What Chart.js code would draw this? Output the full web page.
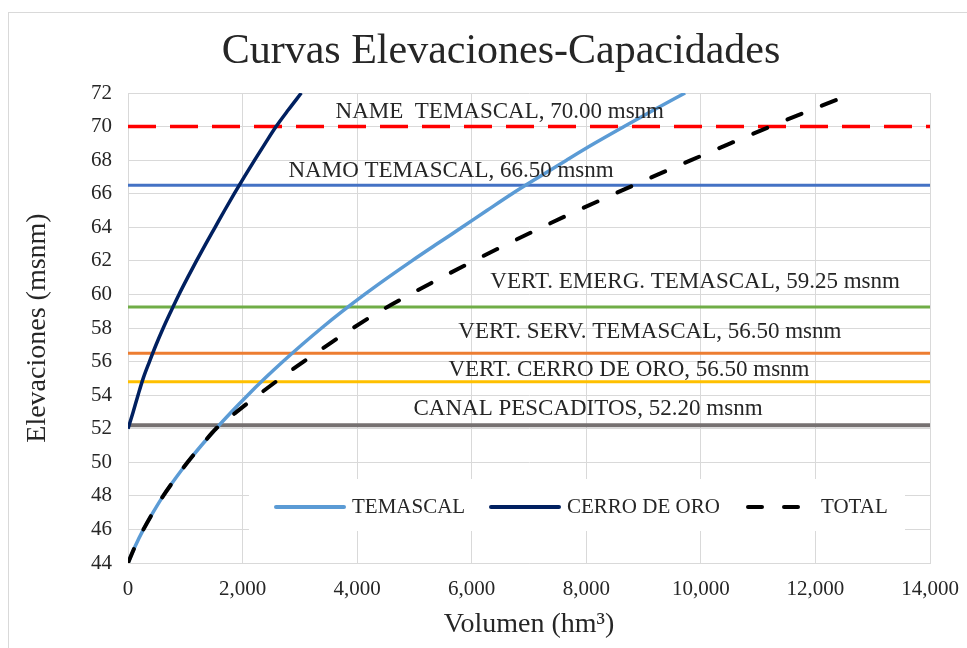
<!DOCTYPE html>
<html>
<head>
<meta charset="utf-8">
<script src="https://cdn.jsdelivr.net/npm/chart.js@4.4.0/dist/chart.umd.min.js"></script>
<style>
  html, body { margin: 0; padding: 0; background: #fff; }
  #wrap { position: relative; width: 967px; height: 648px; overflow: hidden; }
  #frame { position: absolute; left: 8px; top: 12px; width: 1000px; height: 700px; border: 1px solid #d9d9d9; }
  canvas { position: absolute; left: 0; top: 0; }
</style>
</head>
<body>
<div id="wrap">
  <div id="frame"></div>
  <canvas id="myChart" width="967" height="648"></canvas>
</div>
<script>
    // data
    const elevTemascal = [44, 45, 46, 47, 48, 49, 50, 51, 52, 53, 54, 55, 56, 57, 58, 59, 60, 61, 62, 63, 64, 65, 66, 67, 68, 69, 70, 71, 72];
    const volTemascal  = [0, 125, 270, 435, 615, 820, 1040, 1280, 1535, 1805, 2090, 2390, 2705, 3035, 3380, 3745, 4130, 4535, 4955, 5390, 5830, 6265, 6705, 7175, 7655, 8145, 8660, 9185, 9725];

    const elevCerro = [52, 53, 54, 55, 56, 57, 58, 59, 60, 61, 62, 63, 64, 65, 66, 67, 68, 69, 70, 71, 72];
    const volCerro  = [0, 90, 175, 265, 375, 490, 615, 750, 890, 1040, 1195, 1355, 1520, 1685, 1855, 2030, 2210, 2395, 2585, 2800, 3025];

    const elevTotal = [44, 45, 46, 47, 48, 49, 50, 51, 52, 53, 54, 55, 56, 57, 58, 59, 60, 61, 62, 63, 64, 65, 66, 67, 68, 69, 70, 71, 72];
    const volTotal  = [0, 125, 270, 435, 615, 820, 1040, 1280, 1535, 1895, 2270, 2660, 3065, 3490, 3930, 4400, 4925, 5470, 6035, 6620, 7225, 7850, 8495, 9155, 9830, 10515, 11210, 11930, 12675];

    const levelNames  = ['NAME  TEMASCAL, 70.00 msnm', 'NAMO TEMASCAL, 66.50 msnm', 'VERT. EMERG. TEMASCAL, 59.25 msnm',
                         'VERT. SERV. TEMASCAL, 56.50 msnm', 'VERT. CERRO DE ORO, 56.50 msnm', 'CANAL PESCADITOS, 52.20 msnm'];
    const levelValues = [70, 66.5, 59.25, 56.5, 54.8, 52.2];
    const levelSpan   = [0, 14000];

    const xTicks = [0, 2000, 4000, 6000, 8000, 10000, 12000, 14000];
    const yTicks = [44, 46, 48, 50, 52, 54, 56, 58, 60, 62, 64, 66, 68, 70, 72];

    const seriesNames = ['TEMASCAL', 'CERRO DE ORO', 'TOTAL'];

    // styles / layout
    const serif = '"Liberation Serif", "Times New Roman", serif';
    const textColor = '#262626';
    const levelColors = ['#ff0000', '#4472c4', '#70ad47', '#ed7d31', '#ffc000', '#767171'];
    const levelWidths = [3.5, 3, 3, 3, 3, 4];
    // where the level captions sit, in data units (volume, elevation)
    const captionAt = [[6490, 70.87], [5640, 67.35], [9900, 60.74], [9110, 57.77], [8745, 55.5], [8030, 53.18]];

    const toPoints = (xs, ys) => xs.map((v, i) => ({ x: v, y: ys[i] }));

    const datasets = [
      { label: 'TOTAL', data: toPoints(volTotal, elevTotal), borderColor: '#000', borderWidth: 4,
        borderDash: [15, 22], borderCapStyle: 'round', cubicInterpolationMode: 'monotone' },
      { label: 'CERRO DE ORO', data: toPoints(volCerro, elevCerro), borderColor: '#002060', borderWidth: 3.5, cubicInterpolationMode: 'monotone' },
      { label: 'TEMASCAL', data: toPoints(volTemascal, elevTemascal), borderColor: '#5b9bd5', borderWidth: 3.5, cubicInterpolationMode: 'monotone' }
    ];
    levelValues.forEach((lv, i) => {
      datasets.push({
        label: levelNames[i],
        data: levelSpan.map(v => ({ x: v, y: lv })),
        borderColor: levelColors[i],
        borderWidth: levelWidths[i],
        borderDash: i === 0 ? [28, 14] : [],
        tension: 0
      });
    });

    // level captions
    const levelCaptions = {
      id: 'levelCaptions',
      afterDatasetsDraw(chart) {
        const { ctx, scales: { x, y } } = chart;
        ctx.save();
        ctx.font = `23px ${serif}`;
        ctx.fillStyle = textColor;
        ctx.textAlign = 'center';
        ctx.textBaseline = 'middle';
        levelNames.forEach((t, i) => {
          ctx.fillText(t, x.getPixelForValue(captionAt[i][0]), y.getPixelForValue(captionAt[i][1]));
        });
        ctx.restore();
      }
    };

    // legend box inside the plot
    const legendBox = {
      id: 'legendBox',
      beforeDatasetsDraw(chart) {
        const { ctx } = chart;
        ctx.save();
        ctx.fillStyle = '#fff';
        ctx.fillRect(249, 479, 656, 52);
        const cy = 507;
        const items = [
          { x0: 274, x1: 346, tx: 352, color: '#5b9bd5', dash: [] },
          { x0: 489, x1: 561, tx: 567, color: '#002060', dash: [] },
          { x0: 746, x1: 801, tx: 821, color: '#000', dash: [14, 22] }
        ];
        items.forEach((it, i) => {
          ctx.beginPath();
          ctx.lineWidth = 4;
          ctx.lineCap = 'round';
          ctx.strokeStyle = it.color;
          ctx.setLineDash(it.dash);
          ctx.moveTo(it.x0 + 2, cy);
          ctx.lineTo(it.x1 - 2, cy);
          ctx.stroke();
          ctx.setLineDash([]);
          ctx.font = `21px ${serif}`;
          ctx.fillStyle = textColor;
          ctx.textAlign = 'left';
          ctx.textBaseline = 'middle';
          ctx.fillText(seriesNames[i], it.tx, cy);
        });
        ctx.restore();
      }
    };

    // chart title
    const chartTitle = {
      id: 'chartTitle',
      afterDraw(chart) {
        const { ctx } = chart;
        ctx.save();
        ctx.font = `42px ${serif}`;
        ctx.fillStyle = textColor;
        ctx.textAlign = 'center';
        ctx.textBaseline = 'middle';
        ctx.fillText('Curvas Elevaciones-Capacidades', 501, 52);
        ctx.restore();
      }
    };

    const config = {
      type: 'scatter',
      data: { datasets },
      options: {
        responsive: false,
        animation: false,
        showLine: true,
        elements: { point: { radius: 0, hoverRadius: 0 } },
        layout: { padding: { left: 8, top: 93, right: 37, bottom: 0 } },
        plugins: { legend: { display: false }, tooltip: { enabled: false } },
        scales: {
          x: {
            type: 'linear', min: 0, max: 14000,
            afterBuildTicks: s => { s.ticks = xTicks.map(v => ({ value: v })); },
            afterFit: s => { s.height = 85; s.paddingLeft = 0; s.paddingRight = 0; },
            ticks: { callback: v => v.toLocaleString('en-US'), font: { family: serif, size: 21 }, color: textColor, padding: 14, maxRotation: 0 },
            grid: { color: '#d9d9d9', drawTicks: false },
            border: { color: '#d9d9d9' },
            title: { display: true, text: 'Volumen (hm³)', font: { family: serif, size: 28 }, color: textColor, padding: { top: 7, bottom: 7 } }
          },
          y: {
            type: 'linear', min: 44, max: 72,
            afterBuildTicks: s => { s.ticks = yTicks.map(v => ({ value: v })); },
            afterFit: s => { s.width = 120; s.paddingTop = 0; s.paddingBottom = 0; },
            ticks: { font: { family: serif, size: 21 }, color: textColor, padding: 16 },
            grid: { color: '#d9d9d9', drawTicks: false },
            border: { color: '#d9d9d9' },
            title: { display: true, text: 'Elevaciones (msnm)', font: { family: serif, size: 28 }, color: textColor, padding: { top: 13, bottom: 13 } }
          }
        }
      },
      plugins: [legendBox, levelCaptions, chartTitle]
    };

    const myChart = new Chart(document.getElementById('myChart'), config);
</script>
</body>
</html>
